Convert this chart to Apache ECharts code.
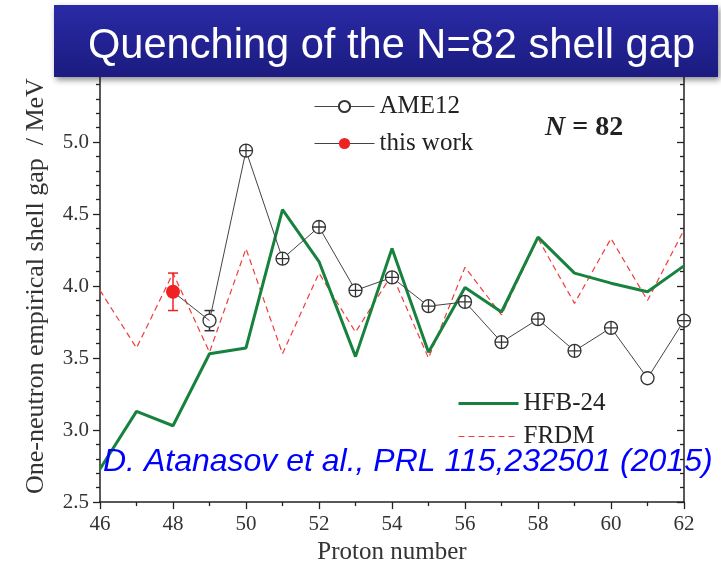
<!DOCTYPE html>
<html><head><meta charset="utf-8">
<script src="https://cdn.jsdelivr.net/npm/echarts@6/dist/echarts.min.js"></script>
<style>html,body{margin:0;padding:0;background:#fff}#c{width:721px;height:570px}</style>
</head><body><div id="c"></div>
<script>
// ---- data ----
var protons = [46,47,48,49,50,51,52,53,54,55,56,57,58,59,60,61,62];
var hfb24 = [2.73,3.13,3.03,3.53,3.57,4.53,4.17,3.51,4.26,3.54,3.99,3.82,4.34,4.09,4.02,3.96,4.14];
var frdm  = [3.97,3.57,4.09,3.54,4.26,3.53,4.09,3.68,4.08,3.50,4.13,3.80,4.33,3.88,4.33,3.90,4.39];
var ameZ  = [49,50,51,52,53,54,55,56,57,58,59,60,61,62];
var ame12 = [3.76,4.94,4.19,4.41,3.97,4.06,3.86,3.89,3.61,3.77,3.55,3.71,3.36,3.76];
var ameErr = [0.07,0,0,0,0,0,0,0,0,0,0,0,0,0];
var ameOpenZ = [49,61];
var thisWorkZ = [48];
var thisWork = [3.96];
var thisWorkErr = [0.13];
var xTicks = [46,48,50,52,54,56,58,60,62];
var yTicks = [2.5,3.0,3.5,4.0,4.5,5.0];

var SERIF = '"Liberation Serif","Times New Roman",serif';
var SANS = '"Liberation Sans",Arial,sans-serif';
var plusCircle = 'path://M0,-10A10,10 0 1,1 0,10A10,10 0 1,1 0,-10ZM-10,0L10,0M0,-10L0,10';

function pairs(xs, ys){ return xs.map(function(x,i){ return [x, ys[i]]; }); }

var ameData = ameZ.map(function(z,i){
  return {value:[z, ame12[i]], symbol: ameOpenZ.indexOf(z) >= 0 ? 'circle' : plusCircle};
});
var errData = [];
thisWorkZ.forEach(function(z,i){ errData.push([z, thisWork[i], thisWorkErr[i], 0]); });
ameZ.forEach(function(z,i){ if (ameErr[i] > 0) errData.push([z, ame12[i], ameErr[i], 1]); });
var errColors = ['#ee2222', '#333333'];

var chart = echarts.init(document.getElementById('c'), null, {renderer:'canvas'});

var baseX = {
  type:'value', min:46, max:62, interval:2,
  axisLine:{show:true, onZero:false, lineStyle:{color:'#222', width:1.5}},
  splitLine:{show:false},
  minorTick:{show:true, splitNumber:2, length:4, lineStyle:{color:'#222', width:1.3}},
  minorSplitLine:{show:false}
};
var baseY = {
  type:'value', min:2.5, max:5.5, interval:0.5,
  axisLine:{show:true, onZero:false, lineStyle:{color:'#222', width:1.5}},
  splitLine:{show:false},
  minorTick:{show:true, splitNumber:5, length:4, lineStyle:{color:'#222', width:1.3}},
  minorSplitLine:{show:false}
};

var option = {
  animation:false,
  backgroundColor:'#fff',
  grid:{left:100, right:37, top:70, bottom:67, containLabel:false},
  xAxis:[
    Object.assign({}, baseX, {
      position:'bottom',
      axisTick:{show:true, inside:false, length:7, lineStyle:{color:'#222', width:1.3}},
      axisLabel:{show:true, margin:12, color:'#333', fontFamily:SERIF, fontSize:21},
      name:'Proton number', nameLocation:'middle', nameGap:37,
      nameTextStyle:{color:'#333', fontFamily:SERIF, fontSize:25}
    }),
    Object.assign({}, baseX, {
      position:'top',
      axisTick:{show:true, inside:true, length:7, lineStyle:{color:'#222', width:1.3}},
      minorTick:{show:true, splitNumber:2, length:4, lineStyle:{color:'#222', width:1.3}},
      axisLabel:{show:false}
    })
  ],
  yAxis:[
    Object.assign({}, baseY, {
      position:'left',
      axisTick:{show:true, inside:false, length:7, lineStyle:{color:'#222', width:1.3}},
      axisLabel:{show:true, margin:11, color:'#333', fontFamily:SERIF, fontSize:21,
        formatter:function(v){ return yTicks.indexOf(Math.round(v*10)/10) >= 0 ? v.toFixed(1) : ''; }},
      name:'One-neutron empirical shell gap  / MeV', nameLocation:'middle', nameGap:51,
      nameTextStyle:{color:'#333', fontFamily:SERIF, fontSize:26}
    }),
    Object.assign({}, baseY, {
      position:'right',
      axisTick:{show:true, inside:true, length:7, lineStyle:{color:'#222', width:1.3}},
      minorTick:{show:true, splitNumber:5, length:4, lineStyle:{color:'#222', width:1.3}},
      axisLabel:{show:false}
    })
  ],
  legend:[
    {
      left:309, top:89, orient:'vertical', itemWidth:60, itemHeight:14, itemGap:12,
      textStyle:{color:'#222', fontFamily:SERIF, fontSize:25},
      selectedMode:false,
      data:[
        {name:'AME12', lineStyle:{width:1, color:'#444'}, itemStyle:{color:'#333'}},
        {name:'this work', lineStyle:{width:1, color:'#444'}}
      ]
    },
    {
      left:452, top:386, orient:'vertical', itemWidth:60, itemHeight:14, itemGap:8,
      textStyle:{color:'#222', fontFamily:SERIF, fontSize:25},
      selectedMode:false,
      data:[
        {name:'HFB-24', lineStyle:{width:3, color:'#16823e'}, itemStyle:{opacity:0}},
        {name:'FRDM', lineStyle:{width:1.2, type:[6,4], color:'#f03c3c'}, itemStyle:{opacity:0}}
      ]
    }
  ],
  series:[
    {
      name:'FRDM', type:'line', data:pairs(protons, frdm), symbol:'none', z:2,
      lineStyle:{color:'#f03c3c', width:1.2, type:[6,4]}, itemStyle:{color:'#f03c3c'}
    },
    {
      name:'HFB-24', type:'line', data:pairs(protons, hfb24), symbol:'none', z:3,
      lineStyle:{color:'#16823e', width:3}, itemStyle:{color:'#16823e'}
    },
    {
      name:'errors', type:'custom', z:4,
      renderItem:function(params, api){
        var x = api.value(0), v = api.value(1), e = api.value(2), c = errColors[api.value(3)];
        var top = api.coord([x, v+e]), bot = api.coord([x, v-e]);
        var w = 5;
        var st = {stroke:c, lineWidth:1.5};
        return {type:'group', children:[
          {type:'line', shape:{x1:top[0], y1:top[1], x2:bot[0], y2:bot[1]}, style:st},
          {type:'line', shape:{x1:top[0]-w, y1:top[1], x2:top[0]+w, y2:top[1]}, style:st},
          {type:'line', shape:{x1:bot[0]-w, y1:bot[1], x2:bot[0]+w, y2:bot[1]}, style:st}
        ]};
      },
      data:errData
    },
    {
      name:'AME12', type:'line', data:ameData, symbol:'emptyCircle', symbolSize:13, showAllSymbol:true, z:5,
      lineStyle:{color:'#444', width:1}, itemStyle:{color:'#fff', borderColor:'#333', borderWidth:1.3}
    },
    {
      name:'this work', type:'line', z:6,
      data:[{value:[thisWorkZ[0], thisWork[0]], symbol:'circle'}, {value:[ameZ[0], ame12[0]], symbol:'none'}],
      symbol:'circle', symbolSize:14, showAllSymbol:true,
      lineStyle:{color:'#444', width:1}, itemStyle:{color:'#ee2222'}
    }
  ],
  graphic:[
    {
      type:'rect', z:100, shape:{x:54, y:5, width:664, height:72},
      style:{
        fill:new echarts.graphic.LinearGradient(0,0,0,1,[{offset:0,color:'#2a2aa6'},{offset:1,color:'#1b1b80'}]),
        shadowBlur:6, shadowOffsetX:2, shadowOffsetY:3, shadowColor:'rgba(0,0,0,0.45)'
      }
    },
    {
      type:'text', z:101, left:88, top:26,
      style:{text:'Quenching of the N=82 shell gap', fill:'#fff', font:'41.6px '+SANS}
    },
    {
      type:'text', z:50, left:545, top:114,
      style:{
        text:'{i|N}{b| = 82}',
        rich:{
          i:{fontFamily:SERIF, fontSize:28, fontStyle:'italic', fontWeight:'bold', fill:'#222'},
          b:{fontFamily:SERIF, fontSize:28, fontWeight:'bold', fill:'#222'}
        }
      }
    },
    {
      type:'text', z:50, left:103, top:446,
      style:{text:'D. Atanasov et al., PRL 115,232501 (2015)', fill:'#0000ff', font:'italic 32px '+SANS}
    }
  ]
};
chart.setOption(option);
</script>
</body></html>
